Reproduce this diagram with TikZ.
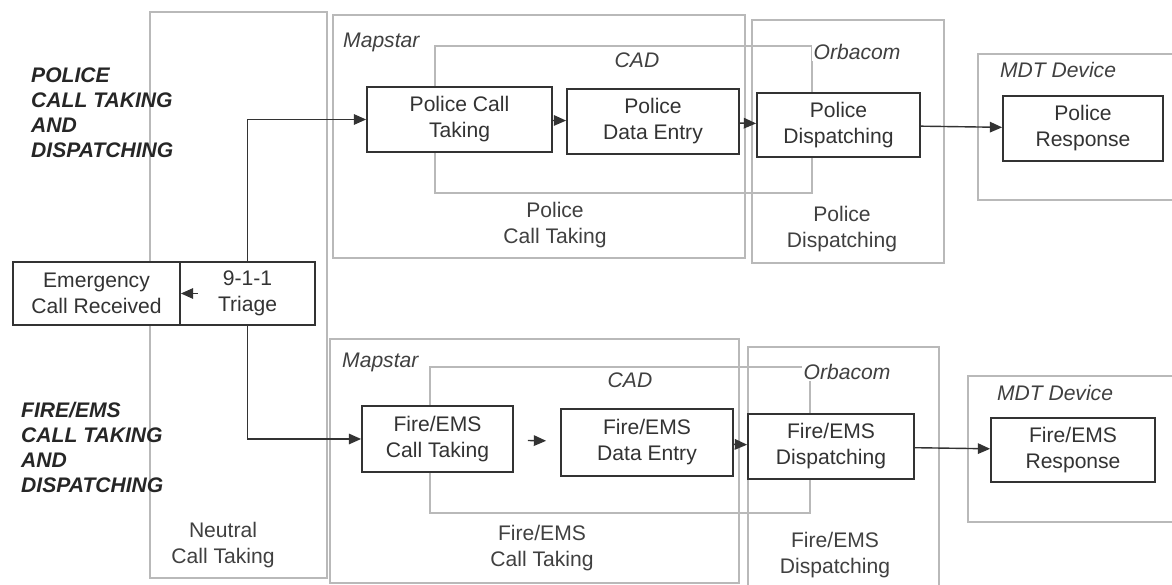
\documentclass[tikz,border=0pt]{standalone}
\usepackage{fontspec}
\setmainfont{Liberation Sans}
\usepackage{tikz}
\usetikzlibrary{arrows.meta, positioning}

\begin{document}
\begin{tikzpicture}[>={Triangle[length=7pt,width=6pt]},
    frame/.style={draw=gray!55, line width=0.6pt},
    stage/.style={draw=black!80, fill=white, line width=1pt, align=center, inner sep=0pt,
        text=black!80, font=\fontsize{12}{14.8}\selectfont},
    caption/.style={align=center, text=black!75, font=\fontsize{12}{14.8}\selectfont},
    system/.style={text=black!75, font=\fontsize{12}{14.8}\selectfont\itshape},
    lane/.style={align=left, text=black!85, font=\fontsize{12}{14.2}\selectfont\bfseries\itshape},
    conn/.style={->, draw=black!80, line width=0.8pt}]

    \useasboundingbox (0,0) rectangle (23.44,11.7);

    % =================================================================
    % PART 1: NEUTRAL COLUMN AND 9-1-1 ENTRY
    % =================================================================
    % Neutral call taking column
    \draw[frame] (3.0,0.14) rectangle (6.54,11.46);
    \node[caption] at (4.46,0.8) {Neutral\\Call Taking};

    % Lane titles on the left
    \node[lane, anchor=west] at (0.5,9.44) {POLICE\\CALL TAKING\\AND\\DISPATCHING};
    \node[lane, anchor=west] at (0.3,2.75) {FIRE/EMS\\CALL TAKING\\AND\\DISPATCHING};

    % =================================================================
    % PART 2: POLICE LANE (TOP)
    % =================================================================
    \draw[frame] (6.66,6.54) rectangle (14.9,11.4);    % Mapstar
    \draw[frame] (8.7,7.84) rectangle (16.24,10.78);   % CAD
    \draw[frame] (15.04,6.44) rectangle (18.88,11.3);  % Orbacom
    \draw[frame] (23.6,10.62) -| (19.56,7.7) -- (23.6,7.7); % MDT device

    \node[system, anchor=west] at (6.74,10.86) {Mapstar};
    \node[system] at (12.74,10.5) {CAD};
    \node[system, fill=white, inner sep=1pt] at (17.14,10.66) {Orbacom};
    \node[system] at (21.16,10.3) {MDT Device};

    \node[caption] at (11.1,7.2) {Police\\Call Taking};
    \node[caption] at (16.84,7.11) {Police\\Dispatching};

    % =================================================================
    % PART 3: FIRE/EMS LANE (BOTTOM)
    % =================================================================
    \draw[frame] (6.6,0.04) rectangle (14.78,4.92);    % Mapstar
    \draw[frame] (8.6,1.44) rectangle (16.2,4.36);     % CAD
    \draw[frame] (14.96,-0.2) rectangle (18.78,4.76);  % Orbacom
    \draw[frame] (23.6,4.18) -| (19.36,1.26) -- (23.6,1.26); % MDT device

    \node[system, anchor=west] at (6.72,4.46) {Mapstar};
    \node[system] at (12.6,4.1) {CAD};
    \node[system, fill=white, inner sep=1pt] at (16.94,4.26) {Orbacom};
    \node[system] at (21.1,3.84) {MDT Device};

    \node[caption] at (10.84,0.74) {Fire/EMS\\Call Taking};
    \node[caption] at (16.7,0.6) {Fire/EMS\\Dispatching};

    % =================================================================
    % PART 4: PROCESS BOXES
    % =================================================================
    \node[stage, minimum width=3.34cm, minimum height=1.26cm] (emr) at (1.93,5.83) {Emergency\\Call Received};
    \node[stage, minimum width=2.7cm, minimum height=1.26cm, right=-1pt of emr] (tri) {9-1-1\\Triage};

    \node[stage, minimum width=3.7cm, minimum height=1.3cm] (pct) at (9.19,9.31) {Police Call\\Taking};
    \node[stage, minimum width=3.44cm, minimum height=1.3cm] (pde) at (13.06,9.27) {Police\\Data Entry};
    \node[stage, minimum width=3.26cm, minimum height=1.28cm] (pdis) at (16.77,9.2) {Police\\Dispatching};
    \node[stage, minimum width=3.2cm, minimum height=1.3cm] (pres) at (21.66,9.13) {Police\\Response};

    \node[stage, minimum width=3.02cm, minimum height=1.32cm] (fct) at (8.75,2.92) {Fire/EMS\\Call Taking};
    \node[stage, minimum width=3.44cm, minimum height=1.34cm] (fde) at (12.94,2.85) {Fire/EMS\\Data Entry};
    \node[stage, minimum width=3.32cm, minimum height=1.3cm] (fdis) at (16.62,2.77) {Fire/EMS\\Dispatching};
    \node[stage, minimum width=3.28cm, minimum height=1.28cm] (fres) at (21.46,2.7) {Fire/EMS\\Response};

    % =================================================================
    % PART 5: CONNECTORS
    % =================================================================
    \draw[conn, shorten <=1.0cm] (tri.center) -- (emr.east);
    \draw[conn] (tri.north) |- (pct.west);
    \draw[conn] (tri.south) |- (fct.west);

    \draw[conn] (pct) -- (pde);
    \draw[conn] (pde) -- (pdis);
    \draw[conn] (pdis) -- (pres);

    \draw[conn, shorten <=0.28cm, shorten >=0.28cm] (fct) -- (fde);
    \draw[conn] (fde) -- (fdis);
    \draw[conn] (fdis) -- (fres);

\end{tikzpicture}
\end{document}
